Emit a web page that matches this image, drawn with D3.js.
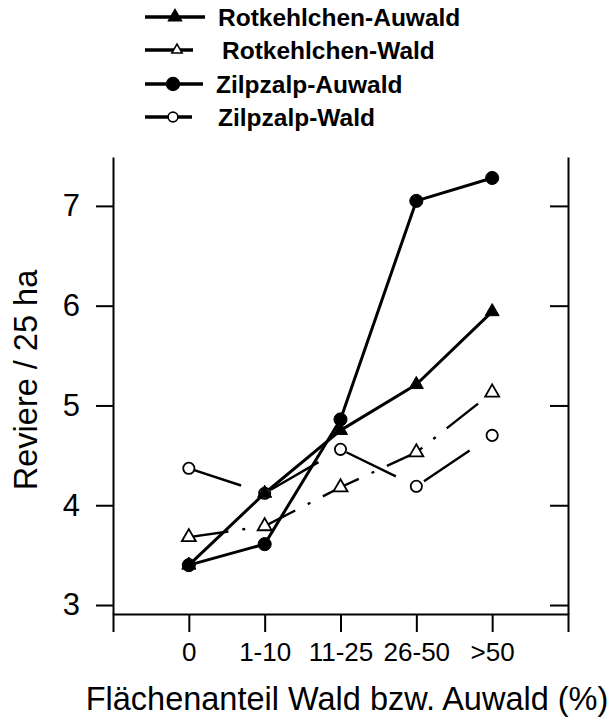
<!DOCTYPE html>
<html>
<head>
<meta charset="utf-8">
<script src="https://cdn.jsdelivr.net/npm/d3@7"></script>
<style>
  body { margin: 0; background: #fff; }
  svg { font-family: 'Liberation Sans', Arial, sans-serif; }
  .axis path, .axis line { stroke: #000; stroke-width: 2; }
  .axis text { fill: #000; }
  .legend-label { font-weight: bold; font-size: 24.5px; }
</style>
</head>
<body>
<svg id="chart"></svg>
<script>
// categories on the x axis
const categories = ['0', '1-10', '11-25', '26-50', '>50'];
const yTicks = [3, 4, 5, 6, 7];

// series values (Reviere / 25 ha)
const rotkehlchenAuwald = [3.40, 4.12, 4.75, 5.21, 5.94];
const rotkehlchenWald = [3.68, 3.79, 4.18, 4.53, 5.13];
const zilpzalpAuwald = [3.40, 3.61, 4.86, 7.05, 7.28];
const zilpzalpWald = [4.37, 4.12, 4.56, 4.19, 4.70];

const seriesNames = ['Rotkehlchen-Auwald', 'Rotkehlchen-Wald', 'Zilpzalp-Auwald', 'Zilpzalp-Wald'];

const width = 612;
const height = 717;
const margin = { top: 157, right: 44, bottom: 103, left: 113 };

const svg = d3.select('#chart').attr('width', width).attr('height', height);

// scales
const x = d3
  .scalePoint()
  .domain(categories)
  .range([margin.left, width - margin.right])
  .padding(1);

const y = d3
  .scaleLinear()
  .domain([2.91, 7.49])
  .range([height - margin.bottom, margin.top]);

// style of each series, drawn in this order
const series = [
  { name: seriesNames[1], values: rotkehlchenWald, symbol: d3.symbolTriangle, filled: false, dash: '40,14,3,14', lw: 2.4 },
  { name: seriesNames[3], values: zilpzalpWald, symbol: d3.symbolCircle, filled: false, dash: '55,32', lw: 2.4 },
  { name: seriesNames[0], values: rotkehlchenAuwald, symbol: d3.symbolTriangle, filled: true, dash: null, lw: 3 },
  { name: seriesNames[2], values: zilpzalpAuwald, symbol: d3.symbolCircle, filled: true, dash: null, lw: 3 },
];

// axes
const xAxis = d3.axisBottom(x).tickSizeInner(18).tickSizeOuter(18).tickPadding(11);
const yAxisLeft = d3
  .axisLeft(y)
  .tickValues(yTicks)
  .tickFormat(d3.format('d'))
  .tickSizeInner(17)
  .tickSizeOuter(0)
  .tickPadding(16);
const yAxisRight = d3.axisLeft(y).tickValues(yTicks).tickSizeInner(18).tickSizeOuter(0).tickFormat('');

const xAxisG = svg
  .append('g')
  .attr('class', 'axis x-axis')
  .attr('transform', `translate(0,${height - margin.bottom})`)
  .call(xAxis);
xAxisG.selectAll('text').attr('font-size', 26);

const yAxisG = svg
  .append('g')
  .attr('class', 'axis y-axis')
  .attr('transform', `translate(${margin.left},0)`)
  .call(yAxisLeft);
yAxisG.selectAll('text').attr('font-size', 31);

svg
  .append('g')
  .attr('class', 'axis y-axis-right')
  .attr('transform', `translate(${width - margin.right},0)`)
  .call(yAxisRight);

svg.selectAll('.axis .domain').attr('fill', 'none');

// axis titles
svg
  .append('text')
  .attr('x', 347)
  .attr('y', 710)
  .attr('text-anchor', 'middle')
  .attr('font-size', 32.5)
  .text('Flächenanteil Wald bzw. Auwald (%)');

svg
  .append('text')
  .attr('transform', 'translate(37,380) rotate(-90)')
  .attr('text-anchor', 'middle')
  .attr('font-size', 32.5)
  .text('Reviere / 25 ha');

// lines
const line = d3
  .line()
  .x((d, i) => x(categories[i]))
  .y((d) => y(d));

svg
  .selectAll('.series-line')
  .data(series)
  .join('path')
  .attr('class', 'series-line')
  .attr('d', (d) => line(d.values))
  .attr('fill', 'none')
  .attr('stroke', '#000')
  .attr('stroke-width', (d) => d.lw)
  .attr('stroke-dasharray', (d) => d.dash)
  .attr('stroke-linejoin', 'round');

// markers
series.forEach(function (s) {
  const size = s.symbol === d3.symbolTriangle ? 85 : (s.filled ? 135 : 100);
  svg
    .selectAll(null)
    .data(s.values)
    .join('path')
    .attr('transform', (d, i) => `translate(${x(categories[i])},${y(d)})`)
    .attr('d', d3.symbol().type(s.symbol).size(size))
    .attr('fill', s.filled ? '#000' : '#fff')
    .attr('stroke', '#000')
    .attr('stroke-width', s.filled ? 1 : 1.8);
});

// legend
const legendItems = [
  { name: seriesNames[0], y: 17, x1: 145, x2: 205, mx: 175, tx: 218, symbol: d3.symbolTriangle, filled: true, size: 70 },
  { name: seriesNames[1], y: 50, x1: 145, x2: 193, mx: 177, tx: 222, symbol: d3.symbolTriangle, filled: false, size: 45 },
  { name: seriesNames[2], y: 84, x1: 145, x2: 203, mx: 173, tx: 216, symbol: d3.symbolCircle, filled: true, size: 130 },
  { name: seriesNames[3], y: 117, x1: 145, x2: 192, mx: 173, tx: 218, symbol: d3.symbolCircle, filled: false, size: 75 },
];

const legend = svg.append('g').attr('class', 'legend');

legend
  .selectAll('line')
  .data(legendItems)
  .join('line')
  .attr('x1', (d) => d.x1)
  .attr('x2', (d) => d.x2)
  .attr('y1', (d) => d.y)
  .attr('y2', (d) => d.y)
  .attr('stroke', '#000')
  .attr('stroke-width', 3.5);

legend
  .selectAll('.legend-marker')
  .data(legendItems)
  .join('path')
  .attr('class', 'legend-marker')
  .attr('transform', (d) => `translate(${d.mx},${d.y})`)
  .attr('d', (d) => d3.symbol().type(d.symbol).size(d.size)())
  .attr('fill', (d) => (d.filled ? '#000' : '#fff'))
  .attr('stroke', '#000')
  .attr('stroke-width', 1.6);

legend
  .selectAll('.legend-label')
  .data(legendItems)
  .join('text')
  .attr('class', 'legend-label')
  .attr('x', (d) => d.tx)
  .attr('y', (d) => d.y)
  .attr('dy', '0.36em')
  .text((d) => d.name);
</script>
</body>
</html>
